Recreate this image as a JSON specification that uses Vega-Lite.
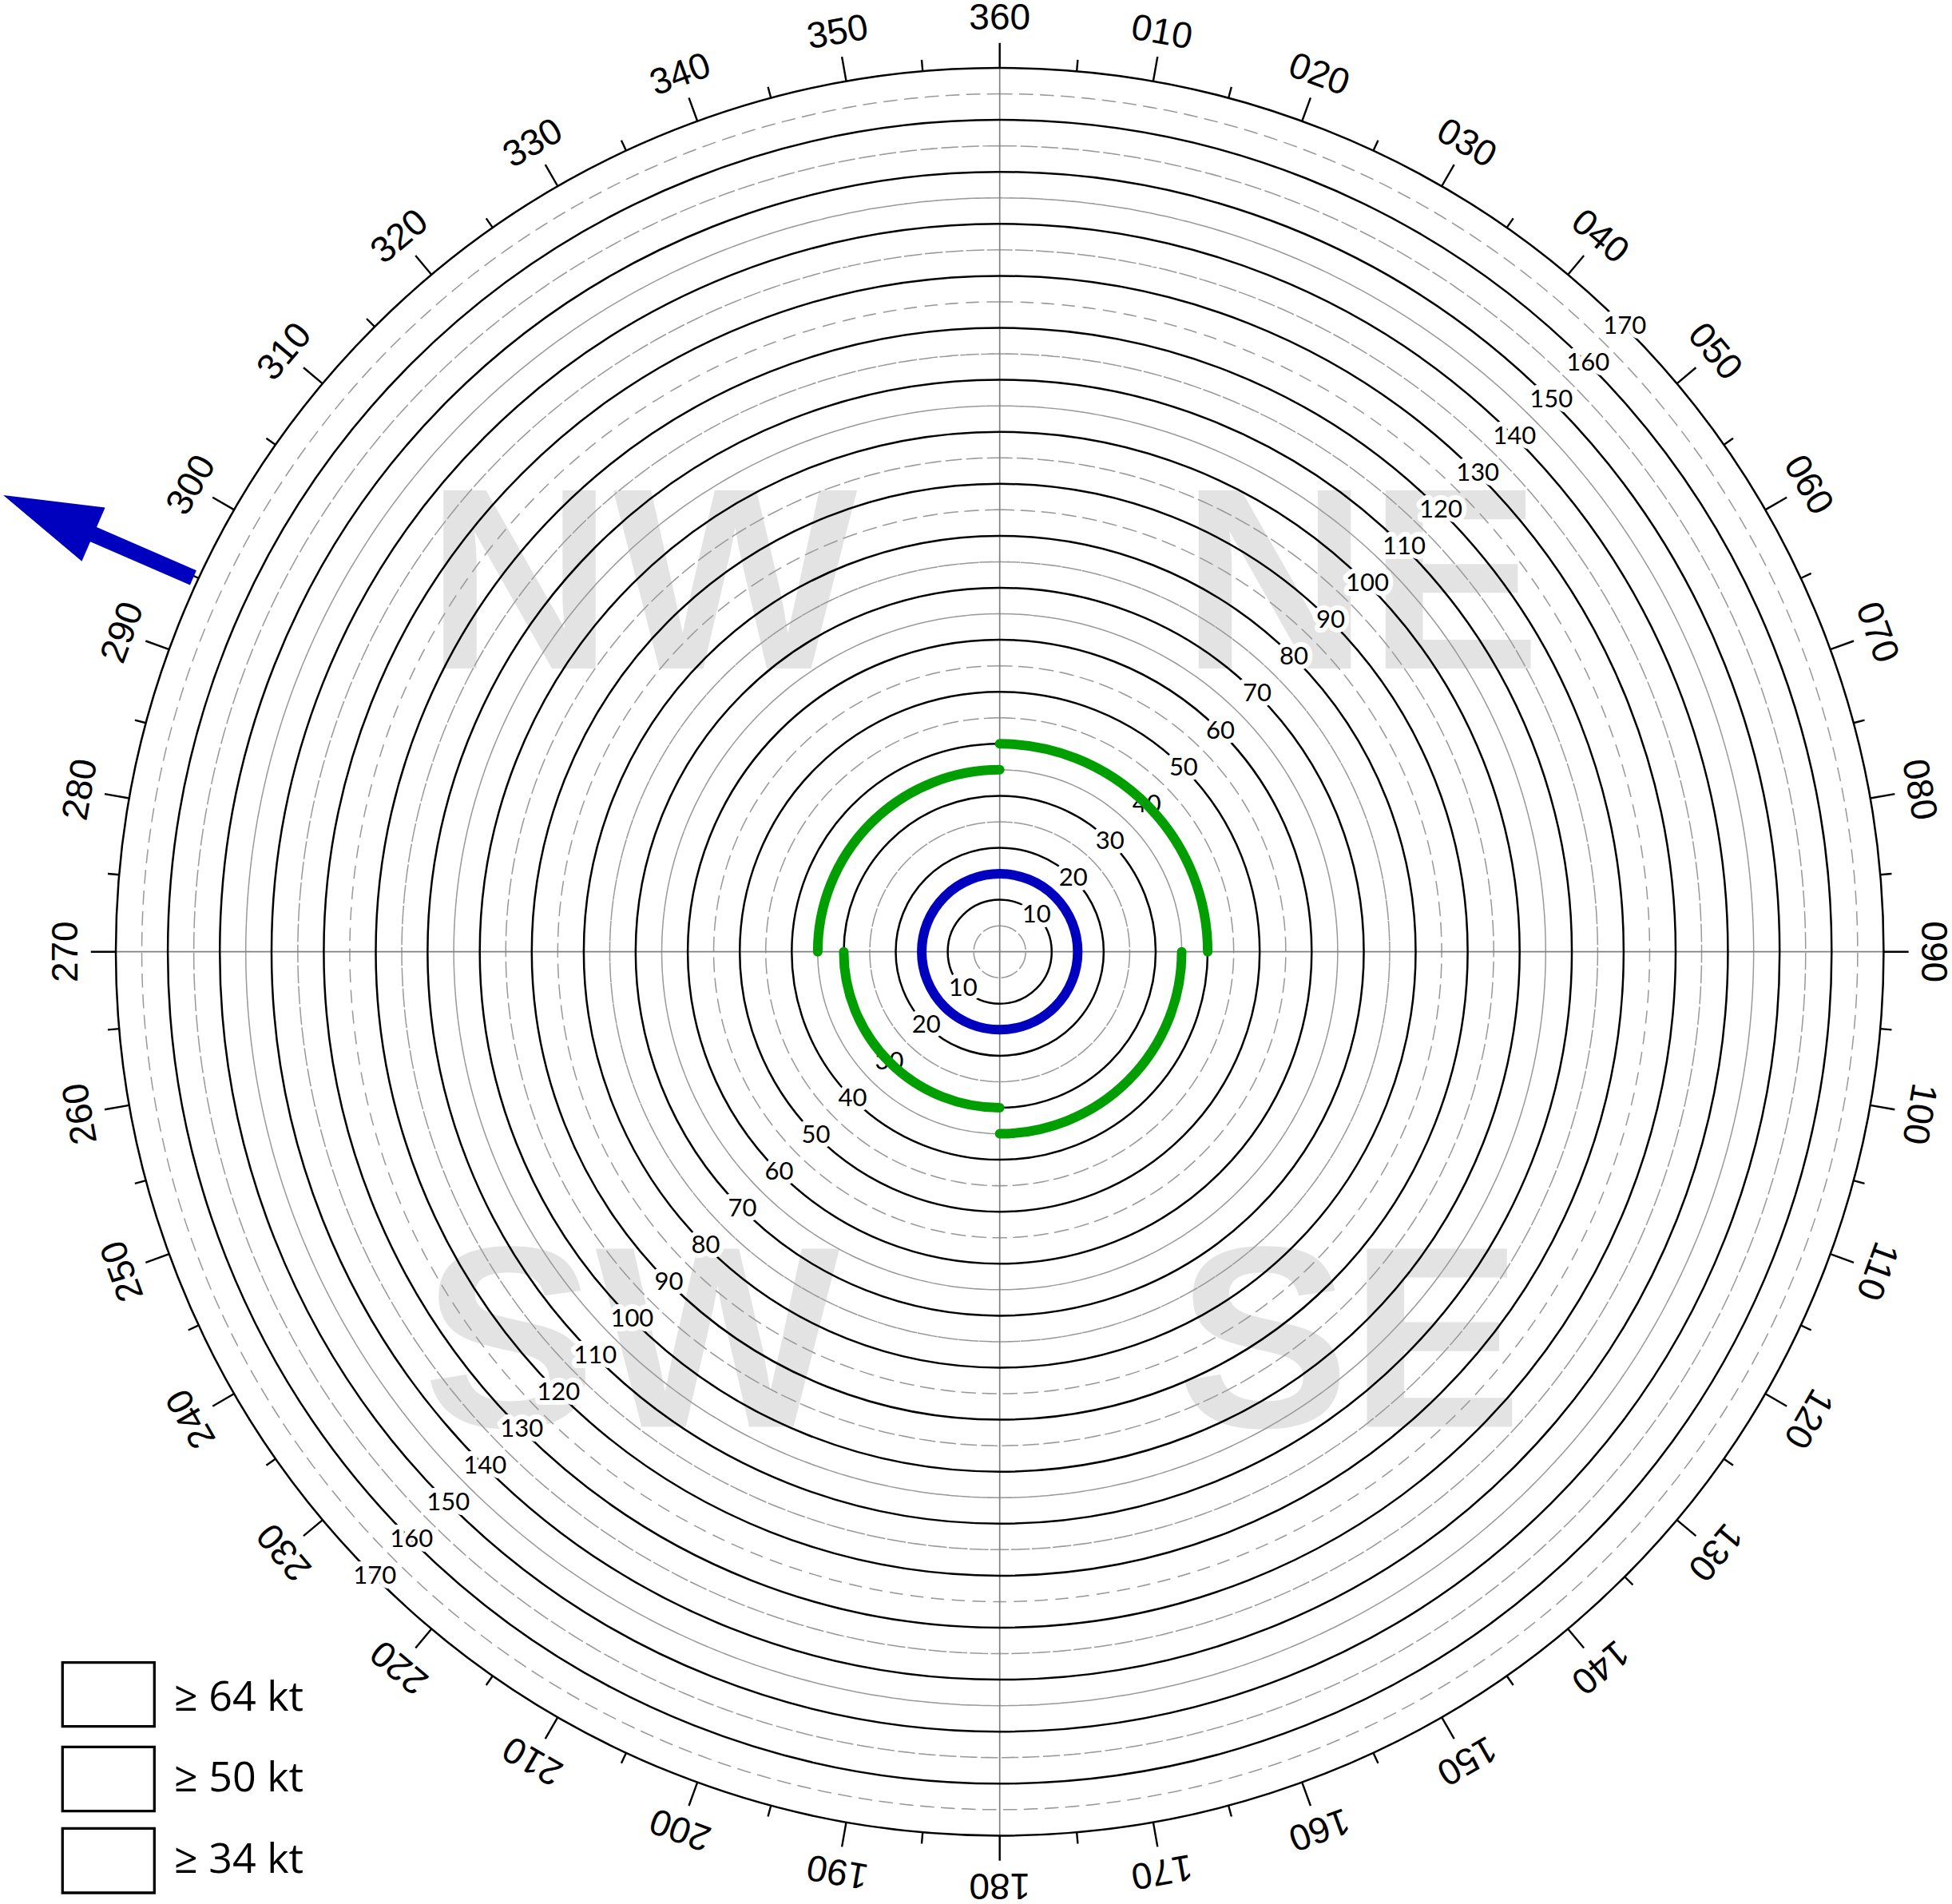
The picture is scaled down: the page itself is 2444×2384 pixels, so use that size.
{
  "$schema": "https://vega.github.io/schema/vega-lite/v6.json",
  "width": 2300,
  "height": 2300,
  "autosize": {"type": "none"},
  "padding": {"left": 101.7, "top": 41.7, "right": 42.3, "bottom": 42.3},
  "background": "white",
  "config": {"view": {"stroke": null}},
  "datasets": {
    "quadrants": [
      {"q": "NW", "x": -68.85, "y": 54.49},
      {"q": "NE", "x": 69.5, "y": 54.49},
      {"q": "SW", "x": -70.85, "y": -91.35},
      {"q": "SE", "x": 67.3, "y": -91.35}
    ],
    "rings": [
      {"r": 10}, {"r": 20}, {"r": 30}, {"r": 40}, {"r": 50}, {"r": 60}, {"r": 70}, {"r": 80}, {"r": 90},
      {"r": 100}, {"r": 110}, {"r": 120}, {"r": 130}, {"r": 140}, {"r": 150}, {"r": 160}, {"r": 170}
    ],
    "dashed": [
      {"r": 5}, {"r": 15}, {"r": 25}, {"r": 35}, {"r": 45}, {"r": 55}, {"r": 65}, {"r": 75}, {"r": 85},
      {"r": 95}, {"r": 105}, {"r": 115}, {"r": 125}, {"r": 135}, {"r": 145}, {"r": 155}, {"r": 165}
    ],
    "axes": [{"deg": 0}, {"deg": 90}, {"deg": 180}, {"deg": 270}],
    "compass": [
      {"deg": 0, "label": "360"}, {"deg": 10, "label": "010"}, {"deg": 20, "label": "020"},
      {"deg": 30, "label": "030"}, {"deg": 40, "label": "040"}, {"deg": 50, "label": "050"},
      {"deg": 60, "label": "060"}, {"deg": 70, "label": "070"}, {"deg": 80, "label": "080"},
      {"deg": 90, "label": "090"}, {"deg": 100, "label": "100"}, {"deg": 110, "label": "110"},
      {"deg": 120, "label": "120"}, {"deg": 130, "label": "130"}, {"deg": 140, "label": "140"},
      {"deg": 150, "label": "150"}, {"deg": 160, "label": "160"}, {"deg": 170, "label": "170"},
      {"deg": 180, "label": "180"}, {"deg": 190, "label": "190"}, {"deg": 200, "label": "200"},
      {"deg": 210, "label": "210"}, {"deg": 220, "label": "220"}, {"deg": 230, "label": "230"},
      {"deg": 240, "label": "240"}, {"deg": 250, "label": "250"}, {"deg": 260, "label": "260"},
      {"deg": 270, "label": "270"}, {"deg": 280, "label": "280"}, {"deg": 290, "label": "290"},
      {"deg": 300, "label": "300"}, {"deg": 310, "label": "310"}, {"deg": 320, "label": "320"},
      {"deg": 330, "label": "330"}, {"deg": 340, "label": "340"}, {"deg": 350, "label": "350"}
    ],
    "minor": [
      {"deg": 5}, {"deg": 15}, {"deg": 25}, {"deg": 35}, {"deg": 45}, {"deg": 55}, {"deg": 65}, {"deg": 75}, {"deg": 85},
      {"deg": 95}, {"deg": 105}, {"deg": 115}, {"deg": 125}, {"deg": 135}, {"deg": 145}, {"deg": 155}, {"deg": 165}, {"deg": 175},
      {"deg": 185}, {"deg": 195}, {"deg": 205}, {"deg": 215}, {"deg": 225}, {"deg": 235}, {"deg": 245}, {"deg": 255}, {"deg": 265},
      {"deg": 275}, {"deg": 285}, {"deg": 295}, {"deg": 305}, {"deg": 315}, {"deg": 325}, {"deg": 335}, {"deg": 345}, {"deg": 355}
    ],
    "ringlabels": [
      {"r": 10, "dir": 45, "label": "10"}, {"r": 20, "dir": 45, "label": "20"}, {"r": 30, "dir": 45, "label": "30"},
      {"r": 40, "dir": 45, "label": "40"}, {"r": 50, "dir": 45, "label": "50"}, {"r": 60, "dir": 45, "label": "60"},
      {"r": 70, "dir": 45, "label": "70"}, {"r": 80, "dir": 45, "label": "80"}, {"r": 90, "dir": 45, "label": "90"},
      {"r": 100, "dir": 45, "label": "100"}, {"r": 110, "dir": 45, "label": "110"}, {"r": 120, "dir": 45, "label": "120"},
      {"r": 130, "dir": 45, "label": "130"}, {"r": 140, "dir": 45, "label": "140"}, {"r": 150, "dir": 45, "label": "150"},
      {"r": 160, "dir": 45, "label": "160"}, {"r": 170, "dir": 45, "label": "170"},
      {"r": 10, "dir": 225, "label": "10"}, {"r": 20, "dir": 225, "label": "20"}, {"r": 30, "dir": 225, "label": "30"},
      {"r": 40, "dir": 225, "label": "40"}, {"r": 50, "dir": 225, "label": "50"}, {"r": 60, "dir": 225, "label": "60"},
      {"r": 70, "dir": 225, "label": "70"}, {"r": 80, "dir": 225, "label": "80"}, {"r": 90, "dir": 225, "label": "90"},
      {"r": 100, "dir": 225, "label": "100"}, {"r": 110, "dir": 225, "label": "110"}, {"r": 120, "dir": 225, "label": "120"},
      {"r": 130, "dir": 225, "label": "130"}, {"r": 140, "dir": 225, "label": "140"}, {"r": 150, "dir": 225, "label": "150"},
      {"r": 160, "dir": 225, "label": "160"}, {"r": 170, "dir": 225, "label": "170"}
    ],
    "radii": [
      {"kt": "≥ 64 kt", "from": 0, "to": 360, "r": 15},
      {"kt": "≥ 34 kt", "from": 0, "to": 90, "r": 40},
      {"kt": "≥ 34 kt", "from": 90, "to": 180, "r": 35},
      {"kt": "≥ 34 kt", "from": 180, "to": 270, "r": 30},
      {"kt": "≥ 34 kt", "from": 270, "to": 360, "r": 35}
    ],
    "motion": [{"x": -173.38, "y": 79.88, "heading": 293.5}],
    "legend": [
      {"label": "≥ 64 kt", "x1": -180.25, "x2": -162.58, "y1": -136.71, "y2": -149.0, "tx": -158.79, "ty": -145.93},
      {"label": "≥ 50 kt", "x1": -180.25, "x2": -162.58, "y1": -152.93, "y2": -165.28, "tx": -158.79, "ty": -161.54},
      {"label": "≥ 34 kt", "x1": -180.25, "x2": -162.58, "y1": -168.6, "y2": -181.0, "tx": -158.79, "ty": -177.16}
    ]
  },
  "layer": [
    {
      "data": {"name": "quadrants"},
      "mark": {"type": "text", "font": "Liberation Sans", "fontWeight": "bold", "fontSize": 324, "fill": "#e3e3e3", "align": "center", "baseline": "alphabetic"},
      "encoding": {
        "x": {"field": "x", "type": "quantitative", "scale": {"domain": [-176.65, 176.65], "nice": false, "zero": false}, "axis": null},
        "y": {"field": "y", "type": "quantitative", "scale": {"domain": [-176.65, 176.65], "nice": false, "zero": false}, "axis": null},
        "text": {"field": "q"}
      }
    },
    {
      "data": {"name": "dashed"},
      "mark": {"type": "arc", "theta": 0, "theta2": 6.283185307179586, "filled": false, "stroke": "#999999", "strokeWidth": 1.5, "strokeDash": [16, 10]},
      "encoding": {
        "radius": {"field": "r", "type": "quantitative", "scale": {"type": "linear", "domain": [0, 170], "range": [0, 1106.7], "zero": true, "nice": false}},
        "radius2": {"field": "r"}
      }
    },
    {
      "data": {"name": "axes"},
      "mark": {"type": "arc", "filled": false, "stroke": "#808080", "strokeWidth": 1.7},
      "encoding": {
        "theta": {"field": "deg", "type": "quantitative", "scale": {"type": "linear", "domain": [0, 360], "range": [0, 6.283185307179586]}},
        "theta2": {"field": "deg"},
        "radius": {"datum": 0, "type": "quantitative", "scale": {"type": "linear", "domain": [0, 170], "range": [0, 1106.7], "zero": true, "nice": false}},
        "radius2": {"datum": 170}
      }
    },
    {
      "data": {"name": "rings"},
      "mark": {"type": "arc", "theta": 0, "theta2": 6.283185307179586, "filled": false, "stroke": "#000000", "strokeWidth": 2.5},
      "encoding": {
        "radius": {"field": "r", "type": "quantitative", "scale": {"type": "linear", "domain": [0, 170], "range": [0, 1106.7], "zero": true, "nice": false}},
        "radius2": {"field": "r"}
      }
    },
    {
      "data": {"name": "compass"},
      "mark": {"type": "arc", "filled": false, "stroke": "#000000", "strokeWidth": 2.4},
      "encoding": {
        "theta": {"field": "deg", "type": "quantitative", "scale": {"type": "linear", "domain": [0, 360], "range": [0, 6.283185307179586]}},
        "theta2": {"field": "deg"},
        "radius": {"datum": 170, "type": "quantitative", "scale": {"type": "linear", "domain": [0, 170], "range": [0, 1106.7], "zero": true, "nice": false}},
        "radius2": {"datum": 174.8}
      }
    },
    {
      "data": {"name": "minor"},
      "mark": {"type": "arc", "filled": false, "stroke": "#000000", "strokeWidth": 2.4},
      "encoding": {
        "theta": {"field": "deg", "type": "quantitative", "scale": {"type": "linear", "domain": [0, 360], "range": [0, 6.283185307179586]}},
        "theta2": {"field": "deg"},
        "radius": {"datum": 170, "type": "quantitative", "scale": {"type": "linear", "domain": [0, 170], "range": [0, 1106.7], "zero": true, "nice": false}},
        "radius2": {"datum": 172.2}
      }
    },
    {
      "data": {"name": "ringlabels"},
      "mark": {"type": "text", "font": "Lato", "fontSize": 31, "fill": "white", "stroke": "white", "strokeWidth": 12, "strokeJoin": "round", "align": "center", "baseline": "middle"},
      "encoding": {
        "theta": {"field": "dir", "type": "quantitative", "scale": {"type": "linear", "domain": [0, 360], "range": [0, 6.283185307179586]}},
        "radius": {"field": "r", "type": "quantitative", "scale": {"type": "linear", "domain": [0, 170], "range": [0, 1106.7], "zero": true, "nice": false}},
        "text": {"field": "label"}
      }
    },
    {
      "data": {"name": "ringlabels"},
      "mark": {"type": "text", "font": "Lato", "fontSize": 31, "fill": "black", "align": "center", "baseline": "middle"},
      "encoding": {
        "theta": {"field": "dir", "type": "quantitative", "scale": {"type": "linear", "domain": [0, 360], "range": [0, 6.283185307179586]}},
        "radius": {"field": "r", "type": "quantitative", "scale": {"type": "linear", "domain": [0, 170], "range": [0, 1106.7], "zero": true, "nice": false}},
        "text": {"field": "label"}
      }
    },
    {
      "data": {"name": "compass"},
      "mark": {"type": "text", "font": "Liberation Sans", "fontSize": 46, "fill": "black", "align": "center", "baseline": "middle"},
      "encoding": {
        "theta": {"field": "deg", "type": "quantitative", "scale": {"type": "linear", "domain": [0, 360], "range": [0, 6.283185307179586]}},
        "radius": {"datum": 179.5, "type": "quantitative", "scale": {"type": "linear", "domain": [0, 170], "range": [0, 1106.7], "zero": true, "nice": false}},
        "angle": {"field": "deg", "type": "quantitative", "scale": null},
        "text": {"field": "label"}
      }
    },
    {
      "data": {"name": "radii"},
      "mark": {"type": "arc", "filled": false, "strokeWidth": 12, "strokeJoin": "round", "strokeCap": "round"},
      "encoding": {
        "theta": {"field": "from", "type": "quantitative", "scale": {"type": "linear", "domain": [0, 360], "range": [0, 6.283185307179586]}},
        "theta2": {"field": "to"},
        "radius": {"field": "r", "type": "quantitative", "scale": {"type": "linear", "domain": [0, 170], "range": [0, 1106.7], "zero": true, "nice": false}},
        "radius2": {"field": "r"},
        "stroke": {"field": "kt", "type": "nominal", "scale": {"domain": ["≥ 64 kt", "≥ 50 kt", "≥ 34 kt"], "range": ["#0000bf", "#ff8c00", "#009e00"]}, "legend": null}
      }
    },
    {
      "data": {"name": "motion"},
      "mark": {"type": "point", "filled": true, "fill": "#0000bf", "fillOpacity": 1, "opacity": 1, "strokeWidth": 0, "size": 67288,
               "shape": "M0,-1L0.282,-0.05L0.077,-0.05L0.077,1L-0.077,1L-0.077,-0.05L-0.282,-0.05Z"},
      "encoding": {
        "x": {"field": "x", "type": "quantitative", "scale": {"domain": [-176.65, 176.65], "nice": false, "zero": false}, "axis": null},
        "y": {"field": "y", "type": "quantitative", "scale": {"domain": [-176.65, 176.65], "nice": false, "zero": false}, "axis": null},
        "angle": {"field": "heading", "type": "quantitative", "scale": null}
      }
    },
    {
      "data": {"name": "legend"},
      "mark": {"type": "rect", "fill": "white", "stroke": "black", "strokeWidth": 3.3},
      "encoding": {
        "x": {"field": "x1", "type": "quantitative", "scale": {"domain": [-176.65, 176.65], "nice": false, "zero": false}, "axis": null},
        "x2": {"field": "x2"},
        "y": {"field": "y1", "type": "quantitative", "scale": {"domain": [-176.65, 176.65], "nice": false, "zero": false}, "axis": null},
        "y2": {"field": "y2"}
      }
    },
    {
      "data": {"name": "legend"},
      "mark": {"type": "text", "font": "Open Sans", "fontSize": 52, "fill": "black", "align": "left", "baseline": "alphabetic"},
      "encoding": {
        "x": {"field": "tx", "type": "quantitative", "scale": {"domain": [-176.65, 176.65], "nice": false, "zero": false}, "axis": null},
        "y": {"field": "ty", "type": "quantitative", "scale": {"domain": [-176.65, 176.65], "nice": false, "zero": false}, "axis": null},
        "text": {"field": "label"}
      }
    }
  ]
}
